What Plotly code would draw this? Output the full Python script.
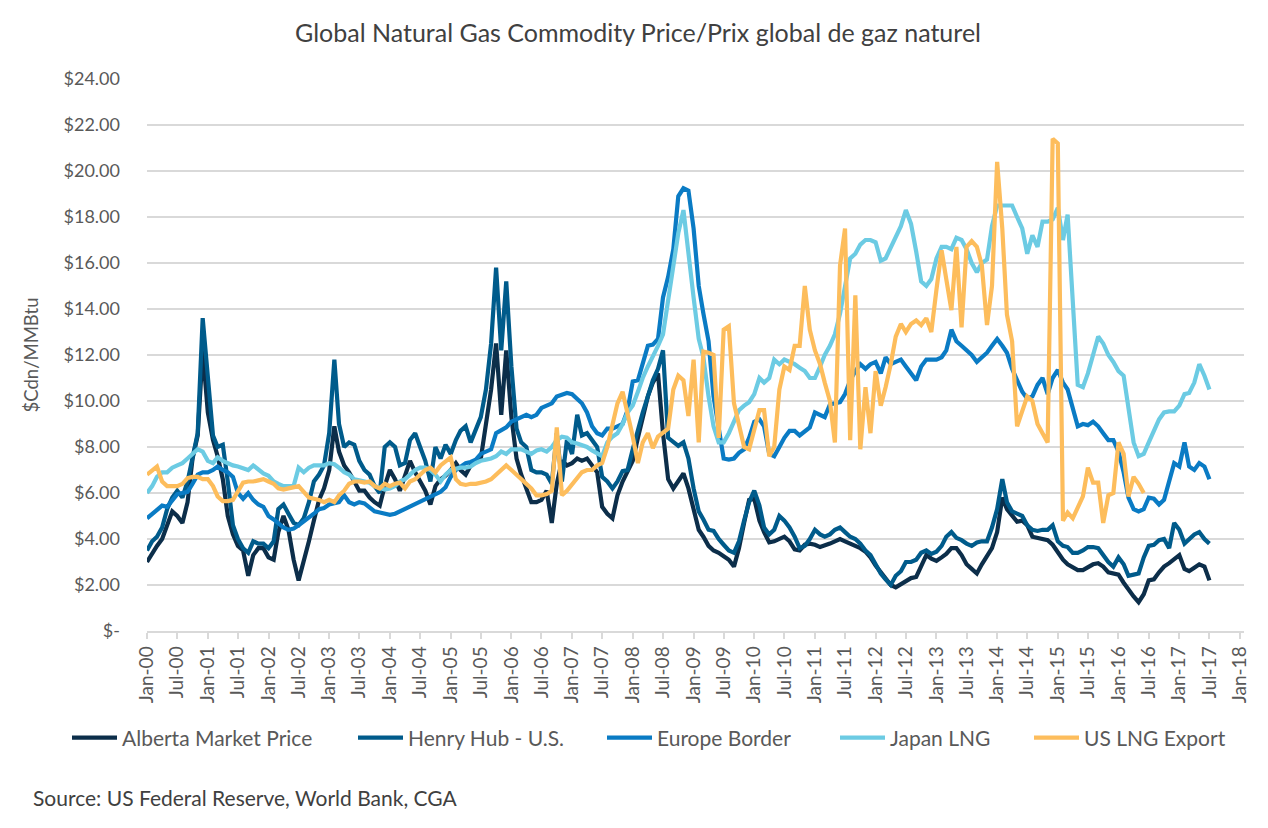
import pandas as pd
import plotly.graph_objects as go

# Monthly dates, Jan-2000 onward
months = pd.date_range("2000-01-01", periods=211, freq="MS")

alberta = [
    3.0, 3.4, 3.7, 4.0, 4.6, 5.2, 5.0, 4.7, 5.6, 7.5, 8.5, 12.2,
    9.5, 8.3, 7.6, 6.6, 5.0, 4.2, 3.7, 3.5, 2.4, 3.3, 3.6, 3.6,
    3.2, 3.1, 4.3, 5.0, 4.4, 3.1, 2.2, 3.0, 3.9, 4.8, 5.7, 6.2,
    7.0, 8.9, 7.8, 7.2, 6.9, 6.5, 6.1, 6.1, 5.8, 5.6, 5.45, 6.3,
    7.0, 6.6, 6.1, 6.75, 7.4, 6.9, 6.5, 6.1, 5.5, 6.3, 6.6, 6.75,
    7.0, 7.3, 7.0, 6.8, 7.2, 7.4, 7.5, 9.1, 10.5, 12.5, 9.4, 12.2,
    9.3, 7.5, 6.8, 6.2, 5.6, 5.6, 5.7, 6.1, 4.7, 6.4, 7.4, 7.2,
    7.3, 7.5, 7.4, 7.5, 7.2, 6.9, 5.4, 5.1, 4.9, 5.9, 6.5, 6.9,
    7.4, 8.4, 9.3, 10.2, 10.8, 11.2, 8.6, 6.6, 6.2, 6.5, 6.85, 6.2,
    5.2, 4.4, 4.1, 3.7, 3.5, 3.4, 3.25, 3.1, 2.8, 3.6, 4.7, 5.7,
    5.75, 4.8, 4.3, 3.85, 3.9, 4.0, 4.1, 3.9, 3.55, 3.5, 3.75, 3.8,
    3.75, 3.65, 3.7, 3.8, 3.9, 4.0, 3.9, 3.8, 3.7, 3.6, 3.45, 3.2,
    2.85, 2.55, 2.25, 2.0, 1.9, 2.05, 2.2, 2.3, 2.35, 2.8, 3.3, 3.15,
    3.05, 3.2, 3.35, 3.6, 3.6, 3.3, 2.9, 2.7, 2.5, 2.9, 3.3, 3.6,
    4.3, 5.8, 5.3, 5.0, 4.75, 4.8, 4.6, 4.1, 4.05, 4.0, 3.95, 3.75,
    3.4, 3.1, 2.9, 2.75, 2.65, 2.65, 2.75, 2.9, 2.95, 2.8, 2.55, 2.5,
    2.45, 2.1, 1.8, 1.5, 1.25, 1.6, 2.2, 2.25, 2.55, 2.8, 2.95, 3.1,
    3.3, 2.7, 2.6, 2.75, 2.9, 2.8, 2.2,
]

henry_hub = [
    3.5, 3.9, 4.1, 4.5, 5.3, 5.8, 6.1, 5.8, 6.5, 7.5, 8.6, 13.6,
    11.0, 8.5, 8.0, 8.1, 6.5, 4.6, 4.0, 3.6, 3.4, 3.9, 3.8, 3.8,
    3.6, 3.9, 5.3, 5.5, 5.1, 4.7, 4.6, 4.9, 5.6, 6.5, 6.8, 7.2,
    8.6, 11.8, 9.0, 8.0, 8.2, 8.1, 7.4, 7.0, 6.8, 6.3, 6.0, 8.0,
    8.2, 8.0, 7.2, 7.3, 8.3, 8.6, 8.0, 7.4, 6.5, 8.0, 7.5, 8.1,
    7.7, 8.3, 8.7, 8.9, 8.2, 8.8, 9.3, 10.5, 12.5, 15.8, 12.2, 15.2,
    11.5, 8.8, 8.2, 8.0, 7.0, 6.9, 6.9, 6.8, 6.4, 8.6, 6.5, 8.3,
    7.7, 9.4, 8.5, 8.6, 8.3, 8.0, 6.7, 6.5, 6.2, 6.5, 6.95, 7.0,
    7.9, 8.8, 9.5, 10.2, 10.9, 11.4, 12.2, 8.4, 8.2, 8.05, 8.2, 7.5,
    6.2, 5.2, 4.85, 4.4, 4.35, 4.0, 3.75, 3.5, 3.4, 3.9, 4.8, 5.6,
    6.1, 5.45, 4.5, 4.2, 4.4, 5.0, 4.8, 4.5, 4.1, 3.6, 3.7, 4.0,
    4.4, 4.2, 4.1, 4.2, 4.4, 4.5, 4.3, 4.1, 4.0, 3.8, 3.5, 3.3,
    2.9, 2.5, 2.25, 2.0, 2.4, 2.6, 3.0, 3.0, 3.1, 3.4, 3.5, 3.35,
    3.45, 3.7, 4.1, 4.3, 4.05, 3.95, 3.8, 3.7, 3.85, 3.9, 3.9, 4.5,
    5.3, 6.6, 5.6, 5.2, 5.1, 5.0, 4.6, 4.4, 4.35, 4.4, 4.4, 4.6,
    3.9, 3.7, 3.65, 3.4, 3.4, 3.5, 3.65, 3.65, 3.6, 3.3, 3.0, 2.8,
    3.2, 2.9, 2.4, 2.45, 2.5, 3.2, 3.7, 3.75, 3.95, 4.0, 3.6, 4.7,
    4.4, 3.8, 4.0, 4.2, 4.3, 4.0, 3.8,
]

europe = [
    4.9, 5.1, 5.3, 5.45, 5.4, 5.7, 5.95, 6.0, 6.05, 6.4, 6.8, 6.9,
    6.9, 7.0, 7.15, 7.0, 6.9, 6.7, 6.0, 5.75, 6.0, 5.7, 5.5, 5.4,
    5.0, 4.85, 4.7, 4.5, 4.4, 4.45, 4.6, 4.75, 4.95, 5.1, 5.3, 5.35,
    5.5, 5.55, 5.6, 5.9, 5.6, 5.5, 5.6, 5.55, 5.4, 5.2, 5.15, 5.1,
    5.05, 5.1, 5.2, 5.3, 5.45, 5.55, 5.65, 5.75, 5.85, 5.95, 6.05, 6.25,
    6.7, 7.0, 7.15, 7.3, 7.35, 7.45, 7.7, 7.8, 7.9, 8.6, 8.75, 8.85,
    9.1, 9.2, 9.3, 9.4, 9.3, 9.4, 9.7, 9.8, 9.9, 10.2, 10.3, 10.35,
    10.3, 10.1, 9.9, 9.5, 8.9, 8.6, 8.5, 8.8, 8.8, 8.9, 9.0, 9.6,
    10.85, 10.9, 11.6, 12.4, 12.45, 12.7, 14.5, 15.4, 16.6, 18.9, 19.25, 19.15,
    17.5, 15.0, 13.8, 12.6, 10.2, 8.8, 7.5, 7.45, 7.5, 7.75, 7.9, 8.4,
    9.1, 9.2, 8.9, 7.7, 7.6, 8.0, 8.4, 8.7, 8.7, 8.5, 8.7, 8.85,
    9.5, 9.4, 9.3, 9.85, 9.9, 9.95, 10.3, 10.9, 11.3, 11.6, 11.4, 11.6,
    11.7, 11.2, 11.9, 11.6, 11.7, 11.8, 11.5, 11.2, 10.9, 11.5, 11.8, 11.8,
    11.8, 11.9, 12.2, 13.1, 12.6, 12.4, 12.2, 12.0, 11.7, 11.9, 12.1, 12.4,
    12.7, 12.4, 12.1, 11.4, 10.9, 10.4, 10.1, 10.2, 10.7, 11.0, 10.3, 11.0,
    11.35, 10.8, 10.5, 9.6, 8.9, 9.0, 8.95, 9.1, 8.9, 8.6, 8.3, 8.3,
    7.8, 6.9, 5.8, 5.3, 5.2, 5.3, 5.8, 5.75, 5.5, 5.7, 6.5, 7.3,
    7.15, 8.2, 7.15, 7.0, 7.3, 7.15, 6.6,
]

japan = [
    6.0, 6.3, 6.7, 6.9, 6.9, 7.1, 7.2, 7.3, 7.5, 7.7, 7.9, 7.8,
    7.4, 7.3, 7.55, 7.4, 7.3, 7.2, 7.15, 7.05, 7.0, 7.2, 7.0, 6.85,
    6.75, 6.5, 6.4, 6.3, 6.3, 6.3, 7.1, 6.9, 7.1, 7.2, 7.2, 7.2,
    7.3, 7.25, 7.1, 6.9, 6.8, 6.6, 6.55, 6.5, 6.45, 6.3, 6.2, 6.15,
    6.2, 6.3, 6.5, 6.6, 6.8, 7.0, 7.1, 7.1, 7.0, 6.8, 6.5, 6.8,
    7.0, 7.05, 7.1, 7.1, 7.15, 7.3, 7.4, 7.45, 7.5, 7.6, 7.8, 7.7,
    7.9, 7.9, 7.9, 7.8, 7.7, 7.85, 7.9, 7.8, 8.0, 8.3, 8.45, 8.4,
    8.2, 8.15, 8.1, 8.0, 7.85, 7.7, 7.6, 8.2, 8.45, 8.6, 9.0, 9.5,
    9.8, 10.4, 11.0, 11.5, 11.9, 12.4, 12.9, 14.4, 15.8, 17.3, 18.3, 16.6,
    14.5, 12.7, 11.9, 10.2, 8.9, 8.2, 8.2, 8.6, 9.1, 9.6, 9.8, 9.95,
    10.3, 11.0, 10.8, 11.0, 11.8, 11.6, 11.8, 11.7, 11.6, 11.45, 11.3, 11.0,
    11.0, 11.5, 12.0, 12.4, 12.9, 13.8, 15.0, 16.2, 16.4, 16.8, 17.0, 17.0,
    16.9, 16.1, 16.2, 16.7, 17.2, 17.6, 18.3, 17.7, 16.5, 15.2, 15.0, 15.3,
    16.2, 16.7, 16.7, 16.6, 17.1, 17.0, 16.6, 16.0, 15.6, 16.0, 16.15, 17.6,
    18.5, 18.5, 18.5, 18.5, 18.0, 17.5, 16.4, 17.2, 16.7, 17.8, 17.8, 17.9,
    18.4, 17.0, 18.1, 14.5, 10.7, 10.6, 11.2, 12.0, 12.8, 12.5, 12.0, 11.7,
    11.3, 11.1, 9.6, 8.2, 7.6, 7.7, 8.2, 8.7, 9.2, 9.5, 9.55, 9.55,
    9.8, 10.3, 10.35, 10.8, 11.6, 11.1, 10.5,
]

us_lng = [
    6.8, 7.0, 7.15, 6.5, 6.3, 6.3, 6.3, 6.4, 6.65, 6.7, 6.7, 6.6,
    6.6, 6.3, 5.85, 5.65, 5.65, 5.7, 6.1, 6.45, 6.5, 6.5, 6.55, 6.6,
    6.5, 6.4, 6.2, 6.15, 6.2, 6.25, 6.3, 6.05, 5.8, 5.75, 5.7, 5.6,
    5.7, 5.6, 5.9, 6.1, 6.4, 6.5, 6.5, 6.45, 6.5, 6.3, 6.2, 6.4,
    6.3, 6.4, 6.45, 6.2, 6.5, 6.6, 6.8, 7.0, 7.1, 6.9, 7.2, 7.4,
    7.55, 6.6, 6.4, 6.35, 6.4, 6.4, 6.45, 6.5, 6.6, 6.8, 7.0, 7.2,
    7.0, 6.8, 6.6, 6.45, 6.2, 5.9, 5.9, 5.95, 6.1, 8.85, 5.9, 6.1,
    6.4, 6.7, 6.9, 7.0, 7.0, 7.2, 7.3, 8.0, 9.05, 9.9, 10.4, 9.5,
    8.45, 7.3, 8.2, 8.6, 7.95, 8.45, 8.6, 8.8, 10.5, 11.1, 10.9, 9.35,
    11.8, 8.2, 12.15, 12.1, 12.0, 8.4, 13.1, 13.25, 9.9, 9.05, 8.0, 7.9,
    8.75, 9.6, 9.6, 7.6, 8.0, 10.5, 11.5, 11.35, 12.4, 12.4, 15.0, 13.1,
    12.2, 11.6, 10.8, 10.0, 8.2, 15.9, 17.5, 8.3, 14.6, 7.9, 10.6, 8.6,
    11.3, 9.8, 10.6, 11.6, 12.8, 13.35, 13.0, 13.35, 13.5, 13.3, 13.6, 13.0,
    14.85, 16.55, 15.3, 13.95, 16.7, 13.2, 16.7, 16.95, 16.7, 15.9, 13.3, 15.0,
    20.4, 17.5, 13.75, 12.6, 8.9, 9.55, 10.2, 10.0, 9.0, 8.6, 8.2, 21.4,
    21.2, 4.8, 5.15, 4.9, 5.35, 5.85, 7.1, 6.45, 6.45, 4.7, 5.9, 6.0,
    8.2, 7.7, 5.85, 6.7, 6.4, 6.0,
]

series_names = ["Alberta Market Price", "Henry Hub - U.S.", "Europe Border",
                "Japan LNG", "US LNG Export"]
series_values = [alberta, henry_hub, europe, japan, us_lng]
series_colors = ["#0c2e4a", "#005b8b", "#0a7bc4", "#6ccbe3", "#fdbd5c"]

# Page has an 8px body margin; figure is sized to fit the window exactly.
OFF = 8
W, H = 1268 - 2 * OFF, 828 - 2 * OFF
PLOT_L, PLOT_R, PLOT_T, PLOT_B = 147, 1250, 79, 631  # window px


def cx(px):
    return (px - OFF) / W


def cy(py):
    return 1 - (py - OFF) / H


def px_paper_x(px):
    return (px - PLOT_L) / (PLOT_R - PLOT_L)


def px_paper_y(py):
    return (PLOT_B - py) / (PLOT_B - PLOT_T)


# legend sample start positions (window px)
legend_px = [74, 360, 609, 842, 1036]

y_tickvals = list(range(0, 26, 2))
y_ticktext = ["$-"] + [f"${v:.2f}" for v in y_tickvals[1:]]

FONT = "Lato"
GREY = "#595959"

fig = go.Figure()
for i, (name, vals, color) in enumerate(zip(series_names, series_values, series_colors)):
    fig.add_trace(go.Scatter(
        x=months[:len(vals)], y=vals, mode="lines", name=name,
        line=dict(color=color, width=4.2),
        legend="legend" if i == 0 else f"legend{i + 1}",
        showlegend=True,
    ))

layout_legends = {}
for i, px in enumerate(legend_px):
    key = "legend" if i == 0 else f"legend{i + 1}"
    layout_legends[key] = dict(
        xref="container", yref="container",
        x=cx(px - 7), y=cy(738), xanchor="left", yanchor="middle",
        orientation="h", itemwidth=45, bgcolor="rgba(0,0,0,0)",
        font=dict(family=FONT, size=21, color=GREY),
    )

fig.update_layout(
    width=W, height=H,
    showlegend=True,
    margin=dict(l=PLOT_L - OFF, r=W + OFF - PLOT_R, t=PLOT_T - OFF, b=H + OFF - PLOT_B),
    paper_bgcolor="white", plot_bgcolor="white",
    font=dict(family=FONT, color=GREY),
    title=dict(
        text="Global Natural Gas Commodity Price/Prix global de gaz naturel",
        x=cx(638), xref="container", xanchor="center",
        y=cy(33), yref="container", yanchor="middle",
        font=dict(family=FONT, size=25, color="#404040"),
    ),
    xaxis=dict(
        type="date", range=["2000-01-01", "2018-01-25"],
        tick0="2000-01-01", dtick="M6", tickformat="%b-%y",
        tickangle=-90, ticks="outside", ticklen=6, tickwidth=1.5,
        tickcolor="#d9d9d9", showline=True, linecolor="#d9d9d9", linewidth=1.5,
        showgrid=False, zeroline=False,
        tickfont=dict(family=FONT, size=19, color=GREY),
    ),
    yaxis=dict(
        range=[0, 24], tickvals=y_tickvals, ticktext=y_ticktext,
        showgrid=True, gridcolor="#d9d9d9", gridwidth=1.5,
        zeroline=False, showline=False, ticks="",
        ticklabelstandoff=26,
        tickfont=dict(family=FONT, size=18, color=GREY),
        title=dict(text="$Cdn/MMBtu", standoff=20,
                   font=dict(family=FONT, size=18.5, color=GREY)),
    ),
    **layout_legends,
)

fig.add_annotation(
    text="Source: US Federal Reserve, World Bank, CGA",
    xref="paper", yref="paper", x=px_paper_x(30), y=px_paper_y(797),
    xanchor="left", yanchor="middle", showarrow=False,
    font=dict(family=FONT, size=21, color="#404040"),
)

fig.write_html("out.html")
